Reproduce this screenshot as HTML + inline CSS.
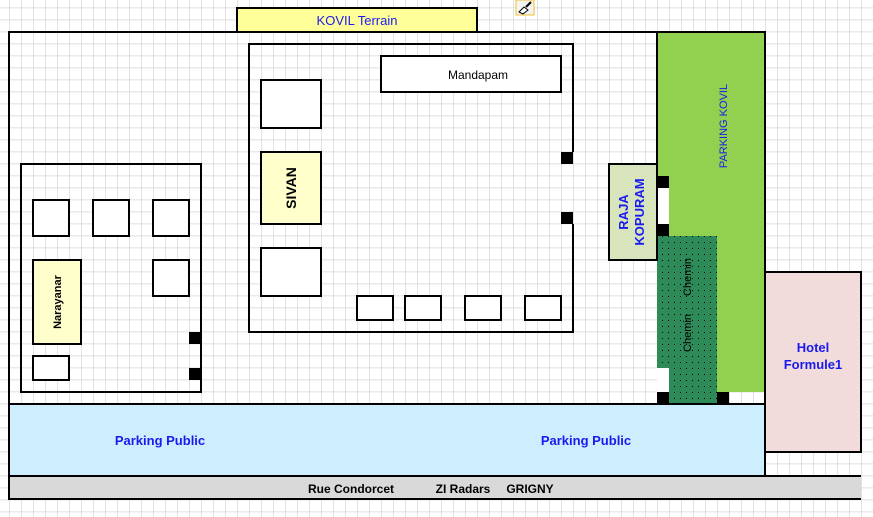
<!DOCTYPE html>
<html><head><meta charset="utf-8"><style>
html,body{margin:0;padding:0;background:#fff;}
svg{display:block;}
text{font-family:"Liberation Sans",Arial,sans-serif;}
</style></head><body>
<svg width="873" height="517" viewBox="0 0 873 517" xmlns="http://www.w3.org/2000/svg">
<defs>
<pattern id="g" x="9" y="7.5" width="12" height="12" patternUnits="userSpaceOnUse">
<path d="M0 0H12M0 0V12" stroke="#d6d6d6" stroke-width="1.4" fill="none"/>
</pattern>
<pattern id="dots" x="0" y="0" width="6" height="6" patternUnits="userSpaceOnUse">
<rect width="6" height="6" fill="#2f8a5a"/><rect x="2" y="2" width="1" height="1" fill="#000"/>
</pattern>
</defs>
<rect width="873" height="517" fill="url(#g)"/>
<!-- KOVIL terrain -->
<rect x="237" y="8" width="240" height="24" fill="#ffff99" stroke="#000" stroke-width="2"/>
<text x="357" y="25" text-anchor="middle" font-size="13" fill="#1a1aee">KOVIL Terrain</text>
<!-- icon -->
<rect x="516" y="0" width="18" height="15" fill="#f4f4f0" stroke="#f0c030" stroke-width="1"/>
<path d="M519 12 L524 7 L528 10 L523 14 Z" fill="#fff" stroke="#000" stroke-width="1"/>
<path d="M526 7 L531 2" stroke="#000" stroke-width="2"/>
<!-- outer -->
<rect x="9" y="32" width="756" height="372" fill="none" stroke="#000" stroke-width="2"/>
<!-- parking kovil -->
<rect x="657" y="32" width="108" height="360" fill="#92d050"/>
<rect x="729" y="392" width="36" height="12" fill="url(#g)"/>
<path d="M765 32 V404" stroke="#000" stroke-width="2"/>
<path d="M657 32 H765" stroke="#000" stroke-width="2"/>
<text transform="translate(727,126) rotate(-90)" text-anchor="middle" font-size="11" fill="#1a1aee">PARKING KOVIL</text>
<rect x="657" y="188" width="12" height="36" fill="#fff"/>
<!-- chemin -->
<rect x="657" y="236" width="60" height="168" fill="url(#dots)"/>
<rect x="657" y="368" width="12" height="24" fill="#fff"/>
<rect x="657" y="176" width="12" height="12" fill="#000"/>
<rect x="657" y="224" width="12" height="12" fill="#000"/>
<rect x="657" y="392" width="12" height="12" fill="#000"/>
<rect x="717" y="392" width="12" height="12" fill="#000"/>
<path d="M657 32 V176" stroke="#000" stroke-width="2"/>
<text transform="translate(691,277) rotate(-90)" text-anchor="middle" font-size="11" fill="#000">Chemin</text>
<text transform="translate(691,333) rotate(-90)" text-anchor="middle" font-size="11" fill="#000">Chemin</text>
<!-- raja kopuram -->
<rect x="609" y="164" width="48" height="96" fill="#d8e4bc" stroke="#000" stroke-width="2"/>
<text transform="translate(628,212) rotate(-90)" text-anchor="middle" font-size="13" font-weight="bold" fill="#1a1aee">RAJA</text>
<text transform="translate(644,212) rotate(-90)" text-anchor="middle" font-size="13" font-weight="bold" fill="#1a1aee">KOPURAM</text>
<!-- temple -->
<path d="M573 152 V44 H249 V332 H573 V224" fill="none" stroke="#000" stroke-width="2"/>
<rect x="561" y="152" width="12" height="12" fill="#000"/>
<rect x="561" y="212" width="12" height="12" fill="#000"/>
<rect x="381" y="56" width="180" height="36" fill="#fff" stroke="#000" stroke-width="2"/>
<text x="478" y="79" text-anchor="middle" font-size="12" fill="#000">Mandapam</text>
<rect x="261" y="80" width="60" height="48" fill="#fff" stroke="#000" stroke-width="2"/>
<rect x="261" y="152" width="60" height="72" fill="#ffffcc" stroke="#000" stroke-width="2"/>
<text transform="translate(296,188) rotate(-90)" text-anchor="middle" font-size="14" font-weight="bold" fill="#000">SIVAN</text>
<rect x="261" y="248" width="60" height="48" fill="#fff" stroke="#000" stroke-width="2"/>
<rect x="357" y="296" width="36" height="24" fill="#fff" stroke="#000" stroke-width="2"/>
<rect x="405" y="296" width="36" height="24" fill="#fff" stroke="#000" stroke-width="2"/>
<rect x="465" y="296" width="36" height="24" fill="#fff" stroke="#000" stroke-width="2"/>
<rect x="525" y="296" width="36" height="24" fill="#fff" stroke="#000" stroke-width="2"/>
<!-- left box -->
<rect x="21" y="164" width="180" height="228" fill="none" stroke="#000" stroke-width="2"/>
<rect x="33" y="200" width="36" height="36" fill="#fff" stroke="#000" stroke-width="2"/>
<rect x="93" y="200" width="36" height="36" fill="#fff" stroke="#000" stroke-width="2"/>
<rect x="153" y="200" width="36" height="36" fill="#fff" stroke="#000" stroke-width="2"/>
<rect x="153" y="260" width="36" height="36" fill="#fff" stroke="#000" stroke-width="2"/>
<rect x="33" y="260" width="48" height="84" fill="#ffffcc" stroke="#000" stroke-width="2"/>
<text transform="translate(61,302) rotate(-90)" text-anchor="middle" font-size="11" font-weight="bold" fill="#000">Narayanar</text>
<rect x="33" y="356" width="36" height="24" fill="#fff" stroke="#000" stroke-width="2"/>
<rect x="189" y="332" width="12" height="12" fill="#000"/>
<rect x="189" y="368" width="12" height="12" fill="#000"/>
<!-- hotel -->
<rect x="765" y="272" width="96" height="180" fill="#f2dcdb" stroke="#000" stroke-width="2"/>
<text x="813" y="352" text-anchor="middle" font-size="13" font-weight="bold" fill="#1a1aee">Hotel</text>
<text x="813" y="369" text-anchor="middle" font-size="13" font-weight="bold" fill="#1a1aee">Formule1</text>
<!-- parking public -->
<rect x="9" y="404" width="756" height="72" fill="#cdeeff" stroke="#000" stroke-width="2"/>
<text x="160" y="445" text-anchor="middle" font-size="13" font-weight="bold" fill="#1a1aee">Parking Public</text>
<text x="586" y="445" text-anchor="middle" font-size="13" font-weight="bold" fill="#1a1aee">Parking Public</text>
<!-- rue -->
<rect x="9" y="476" width="852" height="23" fill="#d9d9d9"/>
<path d="M861 476 H9 V499 H861" fill="none" stroke="#000" stroke-width="2"/>
<text x="351" y="493" text-anchor="middle" font-size="12" font-weight="bold" fill="#000">Rue Condorcet</text>
<text x="463" y="493" text-anchor="middle" font-size="12" font-weight="bold" fill="#000">ZI Radars</text>
<text x="530" y="493" text-anchor="middle" font-size="12" font-weight="bold" fill="#000">GRIGNY</text>
</svg>
</body></html>
